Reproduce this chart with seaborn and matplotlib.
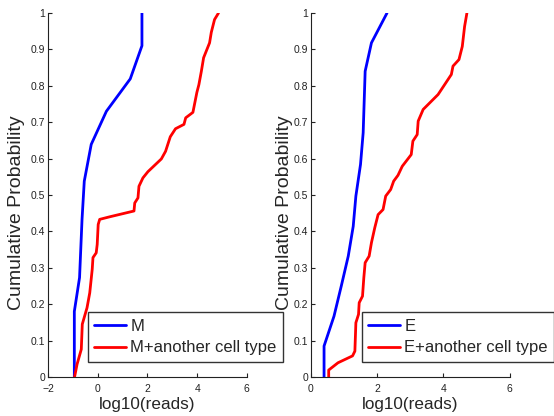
import numpy as np
import pandas as pd
import seaborn as sns
import matplotlib
matplotlib.use("Agg")
import matplotlib.pyplot as plt

# Left panel data
m_x = [-0.94, -0.94, -0.73, -0.63, -0.54, -0.26, 0.35, 1.31, 1.78, 1.78]
m_y = [0.0, 0.18, 0.273, 0.433, 0.538, 0.639, 0.73, 0.819, 0.91, 1.0]

mo_x = [-0.93, -0.83, -0.66, -0.62, -0.43, -0.32, -0.22, -0.19, -0.06, -0.02, 0.02, 0.08,
        0.48, 1.46, 1.49, 1.62, 1.66, 1.82, 2.02, 2.56, 2.73, 2.92, 3.13, 3.47, 3.54,
        3.83, 3.99, 4.07, 4.17, 4.26, 4.50, 4.57, 4.70, 4.86]
mo_y = [0.0, 0.035, 0.076, 0.145, 0.19, 0.231, 0.296, 0.328, 0.341, 0.364, 0.419, 0.433,
        0.44, 0.456, 0.478, 0.492, 0.524, 0.547, 0.564, 0.599, 0.62, 0.66, 0.682, 0.694,
        0.712, 0.727, 0.782, 0.803, 0.84, 0.877, 0.918, 0.947, 0.982, 1.0]

# Right panel data
e_x = [0.40, 0.40, 0.70, 0.92, 1.13, 1.28, 1.36, 1.50, 1.58, 1.64, 1.83, 2.30]
e_y = [0.0, 0.085, 0.167, 0.25, 0.332, 0.414, 0.497, 0.584, 0.671, 0.84, 0.918, 1.0]

eo_x = [0.54, 0.54, 0.82, 1.26, 1.33, 1.36, 1.44, 1.46, 1.56, 1.60, 1.64, 1.76, 1.83,
        1.93, 2.03, 2.18, 2.26, 2.41, 2.50, 2.63, 2.76, 3.03, 3.08, 3.21, 3.24, 3.39,
        3.84, 4.24, 4.29, 4.47, 4.57, 4.64, 4.71]
eo_y = [0.0, 0.019, 0.039, 0.058, 0.071, 0.149, 0.172, 0.204, 0.222, 0.273, 0.314, 0.332,
        0.369, 0.41, 0.446, 0.46, 0.497, 0.515, 0.538, 0.554, 0.579, 0.611, 0.648, 0.666,
        0.703, 0.735, 0.776, 0.831, 0.854, 0.872, 0.908, 0.963, 1.0]

labels_left = ["M", "M+another cell type"]
labels_right = ["E", "E+another cell type"]
y_ticks = [0, 0.1, 0.2, 0.3, 0.4, 0.5, 0.6, 0.7, 0.8, 0.9, 1]
y_ticklabels = ["0", "0.1", "0.2", "0.3", "0.4", "0.5", "0.6", "0.7", "0.8", "0.9", "1"]

sns.set_style("white")
plt.rcParams["font.family"] = ["Liberation Sans", "DejaVu Sans"]

fig = plt.figure(figsize=(5.54, 4.16), dpi=100)
ax1 = fig.add_axes([0.0866, 0.0938, 0.359, 0.875])
ax2 = fig.add_axes([0.561, 0.0938, 0.359, 0.875])


def panel(ax, bx, by, rx, ry, labels, xlim, xticks, xticklabels, leg_x, ylab_x):
    sns.lineplot(x=bx, y=by, sort=False, estimator=None, color="#0000ff", lw=2,
                 ax=ax, label=labels[0])
    sns.lineplot(x=rx, y=ry, sort=False, estimator=None, color="#ff0000", lw=2,
                 ax=ax, label=labels[1])
    ax.set_xlim(*xlim)
    ax.set_ylim(0, 1)
    ax.set_xticks(xticks)
    ax.set_xticklabels(xticklabels)
    ax.set_yticks(y_ticks)
    ax.set_yticklabels(y_ticklabels)
    ax.tick_params(direction="in", length=3, width=0.8, labelsize=7.5, colors="#222222",
                   pad=2, bottom=True, left=True)
    ax.tick_params(axis="x", pad=5)
    for s in ["top", "right"]:
        ax.spines[s].set_visible(False)
    for s in ["left", "bottom"]:
        ax.spines[s].set_color("#222222")
        ax.spines[s].set_linewidth(0.8)
    ax.set_xlabel("log10(reads)", fontsize=12.3, labelpad=2)
    ax.set_ylabel("Cumulative Probability", fontsize=14, va="center")
    ax.yaxis.set_label_coords(ylab_x, 0.45)
    leg = ax.legend(loc="lower left", bbox_to_anchor=(leg_x, 0.041), fontsize=12,
                    frameon=True, fancybox=False, edgecolor="black", handlelength=1.9,
                    handletextpad=0.25, borderpad=0.4, labelspacing=0.4,
                    borderaxespad=0)
    leg.get_frame().set_linewidth(1.0)
    leg.set_clip_on(False)


panel(ax1, m_x, m_y, mo_x, mo_y, labels_left, (-2, 6), [-2, 0, 2, 4, 6],
      ["\u22122", "0", "2", "4", "6"], 0.20, -0.16)
panel(ax2, e_x, e_y, eo_x, eo_y, labels_right, (0, 6), [0, 2, 4, 6],
      ["0", "2", "4", "6"], 0.256, -0.133)
ax1.set_zorder(3)

fig.savefig("out.png", dpi=100)
